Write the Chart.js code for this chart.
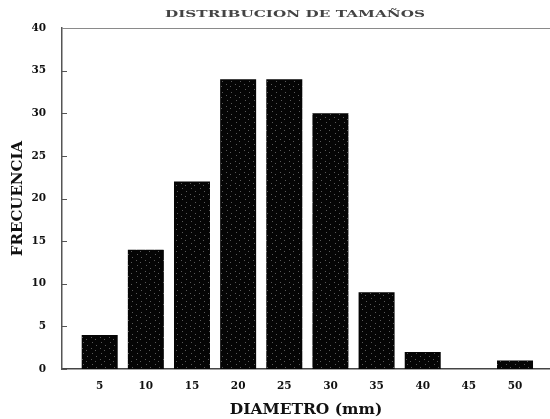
<!DOCTYPE html>
<html>
<head>
<meta charset="utf-8">
<script src="https://cdn.jsdelivr.net/npm/chart.js@4/dist/chart.umd.min.js"></script>
<style>
  html, body { margin: 0; padding: 0; background: #fff; }
  #wrap { width: 550px; height: 419px; }
</style>
</head>
<body>
<div id="wrap"><canvas id="histo" width="550" height="419"></canvas></div>
<script>
// diametro (mm) y frecuencia de cada clase
const DIAMETROS = [5, 10, 15, 20, 25, 30, 35, 40, 45, 50];
const FRECUENCIAS = [4, 14, 22, 34, 34, 30, 9, 2, 0, 1];
const Y_TICKS = [0, 5, 10, 15, 20, 25, 30, 35, 40];
const TITULO = "DISTRIBUCION DE TAMAÑOS";

const SERIF = "'DejaVu Serif', 'Liberation Serif', serif";

// relleno negro con algunos puntitos claros, como la trama impresa
function trama() {
  const c = document.createElement("canvas");
  c.width = 9; c.height = 11;
  const g = c.getContext("2d");
  g.fillStyle = "#050505";
  g.fillRect(0, 0, 9, 11);
  g.fillStyle = "#5a5a5a";
  g.fillRect(2, 1, 1, 1);
  g.fillRect(6, 4, 1, 1);
  g.fillRect(1, 7, 1, 1);
  g.fillRect(5, 9, 1, 1);
  return g.createPattern(c, "repeat");
}

// marcas hacia dentro en el eje y, linea superior y titulo cortado arriba
const extras = {
  id: "extras",
  afterDraw(chart) {
    const ctx = chart.ctx;
    const a = chart.chartArea;
    const y = chart.scales.y;
    ctx.save();
    ctx.strokeStyle = "#555";
    ctx.lineWidth = 1;
    Y_TICKS.forEach(v => {
      const py = Math.round(y.getPixelForValue(v)) + 0.5;
      ctx.beginPath();
      ctx.moveTo(a.left, py);
      ctx.lineTo(a.left + 5, py);
      ctx.stroke();
    });
    ctx.strokeStyle = "#8a8a8a";
    ctx.beginPath();
    ctx.moveTo(a.left, a.top + 0.5);
    ctx.lineTo(a.right, a.top + 0.5);
    ctx.stroke();

    ctx.fillStyle = "#444";
    ctx.font = "bold 15px " + SERIF;
    ctx.textAlign = "center";
    ctx.textBaseline = "alphabetic";
    const w = ctx.measureText(TITULO).width;
    ctx.translate(295, 17);
    ctx.scale(260 / w, 0.55);
    ctx.fillText(TITULO, 0, 0);
    ctx.restore();
  }
};

new Chart(document.getElementById("histo"), {
  type: "bar",
  data: {
    datasets: [{
      data: DIAMETROS.map((d, i) => ({ x: d, y: FRECUENCIAS[i] })),
      backgroundColor: trama(),
      borderWidth: 0,
      categoryPercentage: 1,
      barPercentage: 0.78
    }]
  },
  options: {
    responsive: false,
    animation: false,
    layout: { padding: { top: 28, right: 0, left: 0, bottom: 0 } },
    plugins: {
      legend: { display: false },
      tooltip: { enabled: false }
    },
    scales: {
      x: {
        type: "linear",
        offset: false,
        min: 0.915,
        max: 53.79,
        afterBuildTicks: axis => { axis.ticks = DIAMETROS.map(v => ({ value: v })); },
        afterFit: axis => { axis.height = 50; },
        grid: { display: false, drawTicks: false },
        border: { display: true, color: "#444", width: 1.5 },
        ticks: {
          padding: 11,
          color: "#111",
          font: { family: SERIF, size: 10.5, weight: "bold" }
        },
        title: {
          display: true,
          text: "DIAMETRO (mm)",
          color: "#111",
          padding: { top: 0, bottom: 0 },
          font: { family: SERIF, size: 15.5, weight: "bold" }
        }
      },
      y: {
        min: 0,
        max: 40,
        afterBuildTicks: axis => { axis.ticks = Y_TICKS.map(v => ({ value: v })); },
        afterFit: axis => { axis.width = 62; },
        grid: { display: false, drawTicks: false },
        border: { display: true, color: "#555", width: 1.5 },
        ticks: {
          padding: 16,
          color: "#111",
          font: { family: SERIF, size: 10.5, weight: "bold" }
        },
        title: {
          display: true,
          text: "FRECUENCIA",
          color: "#111",
          padding: { top: 9, bottom: 0 },
          font: { family: SERIF, size: 15, weight: "bold" }
        }
      }
    }
  },
  plugins: [extras]
});
</script>
</body>
</html>
